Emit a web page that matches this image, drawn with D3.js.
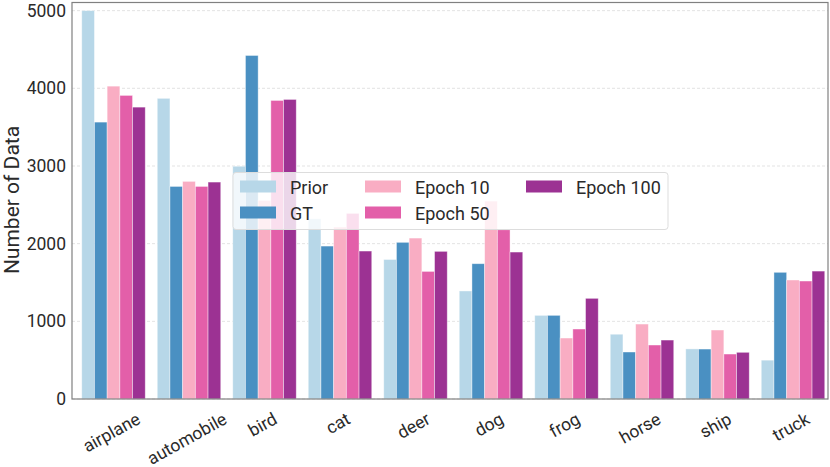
<!DOCTYPE html>
<html>
<head>
<meta charset="utf-8">
<script src="https://cdn.jsdelivr.net/npm/d3@7"></script>
<style>
  body { margin: 0; background: #fff; }
  text { font-family: Roboto, "Liberation Sans", sans-serif; fill: #2a2a2a; }
</style>
</head>
<body>
<script>
// class names along the x axis
const categories = ["airplane", "automobile", "bird", "cat", "deer", "dog", "frog", "horse", "ship", "truck"];

// one array per series
const prior   = [5000, 3871, 2997, 2320, 1796, 1391, 1077, 834, 645, 500];
const gt      = [3565, 2737, 4423, 1969, 2017, 1742, 1077, 605, 643, 1631];
const epoch10 = [4028, 2802, 2557, 2214, 2072, 2548, 785, 965, 888, 1532];
const epoch50 = [3909, 2737, 3844, 2390, 1643, 2179, 901, 695, 579, 1519];
const epoch100 = [3758, 2793, 3857, 1905, 1901, 1892, 1296, 759, 601, 1647];

const seriesNames = ["Prior", "GT", "Epoch 10", "Epoch 50", "Epoch 100"];
const seriesColors = ["#b7d7e8", "#4a90c2", "#f9adc3", "#e35fa9", "#9c3293"];
const yTicks = [0, 1000, 2000, 3000, 4000, 5000];

const w = 830, h = 467;
const plot = {left: 72, right: 828, top: 2.5, bottom: 399};

const series = [prior, gt, epoch10, epoch50, epoch100];

const svg = d3.select("body").append("svg")
    .attr("width", w)
    .attr("height", h);

const xScale = d3.scaleBand()
    .domain(categories)
    .range([75.75, 830.75]);

const bw = xScale.bandwidth();
const xSub = d3.scaleBand()
    .domain(seriesNames)
    .range([6, bw - 6]);

const yScale = d3.scaleLinear()
    .domain([0, 5105])
    .range([plot.bottom, plot.top]);

// grid
svg.append("g")
  .selectAll("line")
  .data(yTicks)
  .join("line")
    .attr("x1", plot.left).attr("x2", plot.right)
    .attr("y1", d => yScale(d)).attr("y2", d => yScale(d))
    .attr("stroke", "#dcdcdc")
    .attr("stroke-width", 0.8)
    .attr("stroke-dasharray", "3,2");

// bars
series.forEach((vals, si) => {
  svg.append("g")
    .selectAll("rect")
    .data(vals)
    .join("rect")
      .attr("x", (d, i) => xScale(categories[i]) + xSub(seriesNames[si]))
      .attr("y", d => yScale(d))
      .attr("width", xSub.bandwidth())
      .attr("height", d => plot.bottom - yScale(d))
      .attr("fill", seriesColors[si])
      .attr("stroke", "#ffffff")
      .attr("stroke-opacity", 0.5)
      .attr("stroke-width", 0.8);
});

// frame
svg.append("rect")
    .attr("x", plot.left).attr("y", plot.top)
    .attr("width", plot.right - plot.left)
    .attr("height", plot.bottom - plot.top)
    .attr("fill", "none")
    .attr("stroke", "#808080")
    .attr("stroke-width", 1.2);

// y axis
const yAxis = svg.append("g")
    .attr("transform", `translate(${plot.left},0)`)
    .call(d3.axisLeft(yScale).tickValues(yTicks).tickFormat(d3.format("d")).tickSize(0).tickPadding(6));
yAxis.select(".domain").remove();
yAxis.selectAll("text")
    .attr("font-size", 17.5)
    .style("font-family", "Roboto, sans-serif")
    .attr("fill", "#2a2a2a");

svg.append("text")
    .attr("transform", "translate(19,200) rotate(-90)")
    .attr("text-anchor", "middle")
    .attr("font-size", 21)
    .text("Number of Data");

// x tick labels, rotated
const angle = 29;
const rad = angle * Math.PI / 180;
svg.append("g")
  .selectAll("text")
  .data(categories)
  .join("text")
    .attr("text-anchor", "middle")
    .attr("dominant-baseline", "central")
    .attr("font-size", 17.5)
    .text(d => d)
    .attr("transform", function(d) {
      const tw = this.getComputedTextLength();
      const th = 17.5 * 1.1;
      const cy = 409 + (tw * Math.sin(rad) + th * Math.cos(rad)) / 2;
      const cx = xScale(d) + bw / 2 - 2;
      return `translate(${cx},${cy}) rotate(${-angle})`;
    });

// legend
const lg = svg.append("g");
lg.append("rect")
    .attr("x", 233).attr("y", 172.5)
    .attr("width", 435).attr("height", 57)
    .attr("rx", 3)
    .attr("fill", "#ffffff")
    .attr("fill-opacity", 0.8)
    .attr("stroke", "#dddddd")
    .attr("stroke-width", 1);

const legCols = [240, 365, 526];
seriesNames.forEach((name, i) => {
  const col = Math.floor(i / 2), row = i % 2;
  const lx = legCols[col];
  const ly = 186.5 + row * 26;
  lg.append("rect")
      .attr("x", lx).attr("y", ly - 6)
      .attr("width", 36).attr("height", 12)
      .attr("fill", seriesColors[i]);
  lg.append("text")
      .attr("x", lx + 50).attr("y", ly + 1)
      .attr("dominant-baseline", "central")
      .attr("font-size", 18)
      .text(name);
});
</script>
</body>
</html>
